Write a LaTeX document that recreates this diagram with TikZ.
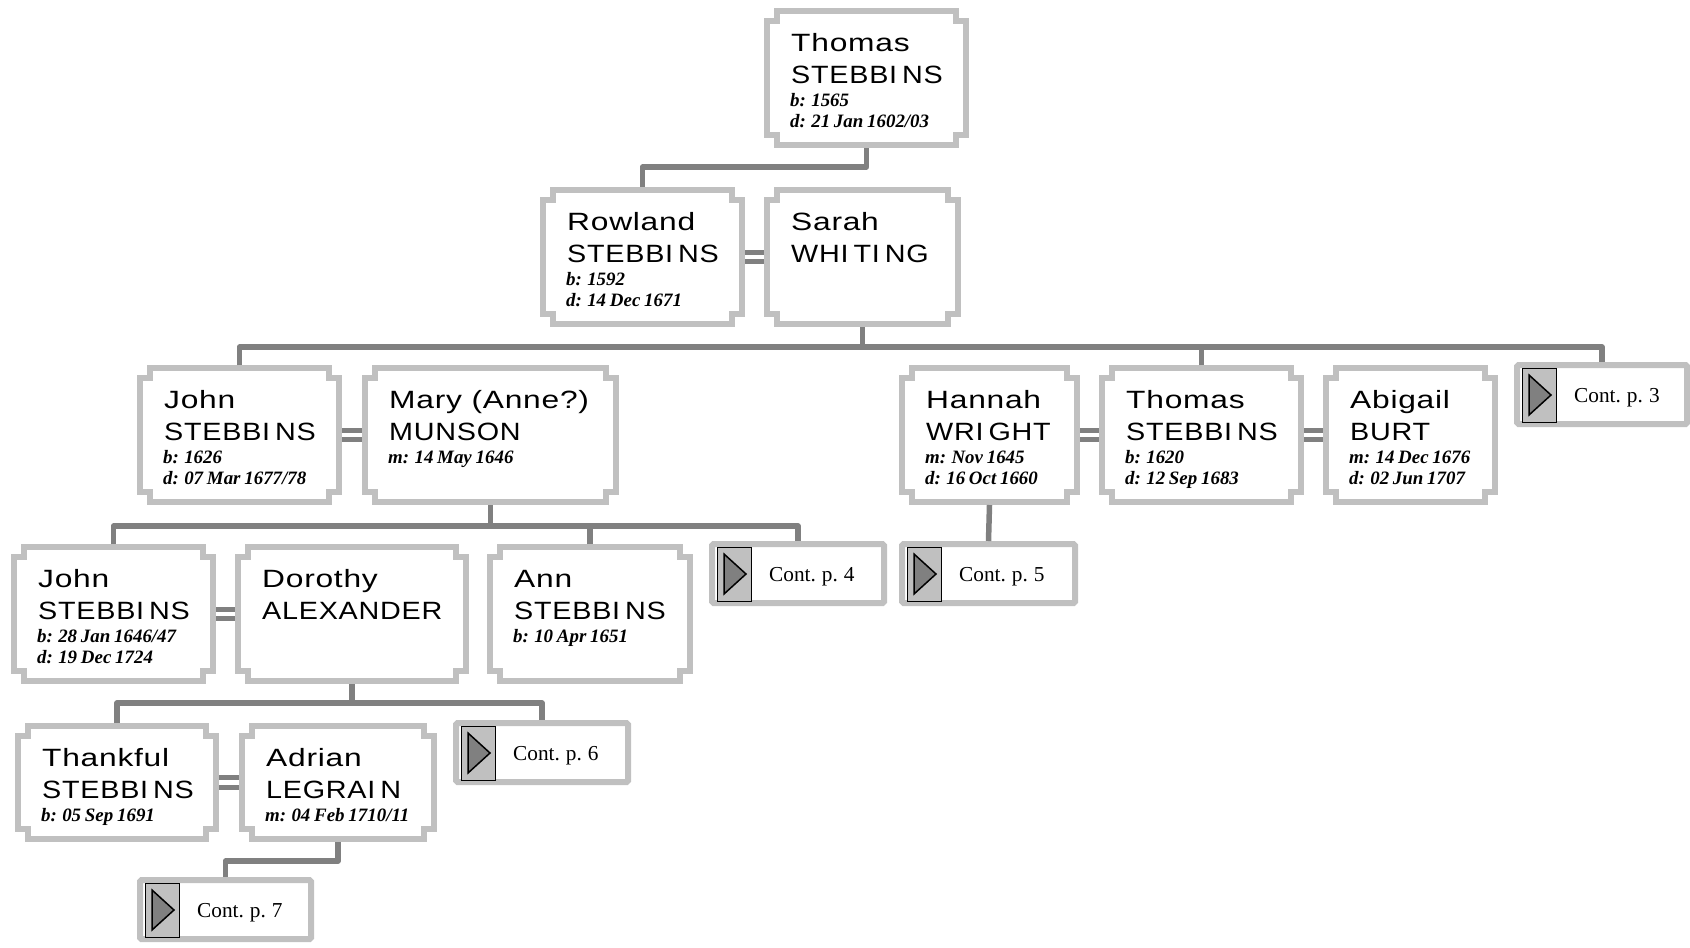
\documentclass[tikz,border=0pt]{standalone}
\usepackage{fontspec}
\usepackage{tikz}
\usetikzlibrary{calc}
\usetikzlibrary{positioning}
\newfontfamily\firstfont[FakeStretch=1.27,LetterSpace=3]{Liberation Sans}
\newfontfamily\lastfont[FakeStretch=1.15,LetterSpace=3]{Liberation Sans}
\newfontfamily\datefont[WordSpace=0.75]{Liberation Serif}
\newfontfamily\contfont[WordSpace=0.8]{Liberation Serif}
\newcommand{\ik}{\kern5pt}
\definecolor{boxgray}{HTML}{C0C0C0}
\definecolor{linegray}{HTML}{808080}
\tikzset{
	person/.style={anchor=north west, inner sep=0pt, outer sep=0pt},
	notch/.style={draw=boxgray, line width=6pt, miter limit=4},
	firsttext/.style={anchor=base west, inner sep=0pt, font=\firstfont\fontsize{25}{25}\selectfont},
	lasttext/.style={anchor=base west, inner sep=0pt, font=\lastfont\fontsize{25}{25}\selectfont},
	datetext/.style={anchor=base west, inner sep=0pt, font=\datefont\bfseries\itshape\fontsize{18.9}{18.9}\selectfont},
	contbox/.style={anchor=north west, draw=boxgray, line width=6pt, inner sep=0pt, outer sep=3pt, rounded corners=1.5pt, minimum height=59pt},
	conticon/.style={anchor=north west, draw=black, fill=boxgray, line width=1pt, inner sep=0pt, minimum width=34pt, minimum height=54pt},
	contarrow/.style={draw=black, fill=linegray, line width=1.5pt},
	conttext/.style={anchor=base west, inner sep=0pt, font=\contfont\fontsize{21.3}{21.3}\selectfont},
	descent/.style={draw=linegray, line width=5.5pt, line join=round},
	spouse/.style={draw=linegray, line width=5pt, double=white, double distance=4.5pt},
}
% name, left, top, width, height, first name, surname
\newcommand{\person}[7]{
	\node[person, minimum width=#4pt, minimum height=#5pt] (#1) at (#2,#3) {};
	\draw[notch] ($(#1.north west)+(13,3)$) -- ($(#1.north east)+(-13,3)$)
		-- ($(#1.north east)+(-13,13)$) -- ($(#1.north east)+(-3,13)$)
		-- ($(#1.south east)+(-3,-13)$) -- ($(#1.south east)+(-13,-13)$)
		-- ($(#1.south east)+(-13,-3)$) -- ($(#1.south west)+(13,-3)$)
		-- ($(#1.south west)+(13,-13)$) -- ($(#1.south west)+(3,-13)$)
		-- ($(#1.north west)+(3,13)$) -- ($(#1.north west)+(13,13)$) -- cycle;
	\node[firsttext] (#1-first) at ($(#1.north west)+(27,43)$) {#6};
	\node[lasttext] (#1-last) at ($(#1.north west)+(27,75)$) {#7};
}
% name, list of date lines
\newcommand{\dates}[2]{
	\foreach \dateline [count=\i] in {#2}
		\node[datetext] (#1-date\i) at ($(#1.north west)+(26,{77+21*\i})$) {\dateline};
}
% name, left, top, width, label
\newcommand{\cont}[5]{
	\node[contbox, minimum width={#4-6}] (#1) at (#2,#3) {};
	\node[conticon] (#1-icon) at ($(#1.north west)+(8,6)$) {};
	\draw[contarrow] ($(#1.north west)+(15,13)$) -- ++(0,40) -- ++(22,-20) -- cycle;
	\node[conttext] (#1-label) at ($(#1.north west)+(60,40)$) {#5};
}

\begin{document}
\begin{tikzpicture}[x=1pt, y=-1pt]
\useasboundingbox (0,0) rectangle (1690,948);
\person{thomasa}{764}{8}{205}{140}{Thomas}{STEBBI\ik NS}
\dates{thomasa}{b: 1565,d: 21 Jan 1602/03}
\person{rowland}{540}{187}{205}{140}{Rowland}{STEBBI\ik NS}
\dates{rowland}{b: 1592,d: 14 Dec 1671}
\person{sarah}{764}{187}{197}{140}{Sarah}{WHI\ik TI\ik NG}
\person{johna}{137}{365}{205}{140}{John}{STEBBI\ik NS}
\dates{johna}{b: 1626,d: 07 Mar 1677/78}
\person{mary}{362}{365}{257}{140}{Mary (Anne?)}{MUNSON}
\dates{mary}{m: 14 May 1646}
\person{hannah}{899}{365}{181}{140}{Hannah}{WRI\ik GHT}
\dates{hannah}{m: Nov 1645,d: 16 Oct 1660}
\person{thomasb}{1099}{365}{205}{140}{Thomas}{STEBBI\ik NS}
\dates{thomasb}{b: 1620,d: 12 Sep 1683}
\person{abigail}{1323}{365}{175}{140}{Abigail}{BURT}
\dates{abigail}{m: 14 Dec 1676,d: 02 Jun 1707}
\person{johnb}{11}{544}{205}{140}{John}{STEBBI\ik NS}
\dates{johnb}{b: 28 Jan 1646/47,d: 19 Dec 1724}
\person{dorothy}{235}{544}{234}{140}{Dorothy}{ALEXANDER}
\person{ann}{487}{544}{206}{140}{Ann}{STEBBI\ik NS}
\dates{ann}{b: 10 Apr 1651}
\person{thankful}{15}{723}{204}{119}{Thankful}{STEBBI\ik NS}
\dates{thankful}{b: 05 Sep 1691}
\person{adrian}{239}{723}{198}{119}{Adrian}{LEGRAI\ik N}
\dates{adrian}{m: 04 Feb 1710/11}
\cont{contc}{1514}{362}{176}{Cont. p. 3}
\cont{contd}{709}{541}{178}{Cont. p. 4}
\cont{conte}{899}{541}{179}{Cont. p. 5}
\cont{contf}{453}{720}{178}{Cont. p. 6}
\cont{contg}{137}{877}{177}{Cont. p. 7}
\coordinate (busa) at (0,167);
\coordinate (busb) at (0,347);
\coordinate (busc) at (0,526);
\coordinate (busd) at (0,703);
\coordinate (buse) at (0,861);
\draw[descent] (thomasa.south) -- (thomasa.south |- busa) -| (rowland.north);
\draw[descent] (sarah.south) -- (sarah.south |- busb);
\draw[descent] (johna.north) |- (busb -| contc.north) -- (contc.north);
\draw[descent] (thomasb.north) -- (thomasb.north |- busb);
\draw[descent] (mary.south) -- (mary.south |- busc);
\draw[descent] (johnb.north) |- (busc -| contd.north) -- (contd.north);
\draw[descent] (ann.north) -- (ann.north |- busc);
\draw[descent] (hannah.south) -- (conte.north);
\draw[descent] (dorothy.south) -- (dorothy.south |- busd);
\draw[descent] (thankful.north) |- (busd -| contf.north) -- (contf.north);
\draw[descent] (adrian.south) -- (adrian.south |- buse) -| (contg.north);
\draw[spouse] (rowland.east) -- (sarah.west);
\draw[spouse] (johna.east) -- (mary.west);
\draw[spouse] (hannah.east) -- (thomasb.west);
\draw[spouse] (thomasb.east) -- (abigail.west);
\draw[spouse] (johnb.east) -- (dorothy.west);
\draw[spouse] (thankful.east) -- (adrian.west);
\end{tikzpicture}
\end{document}
